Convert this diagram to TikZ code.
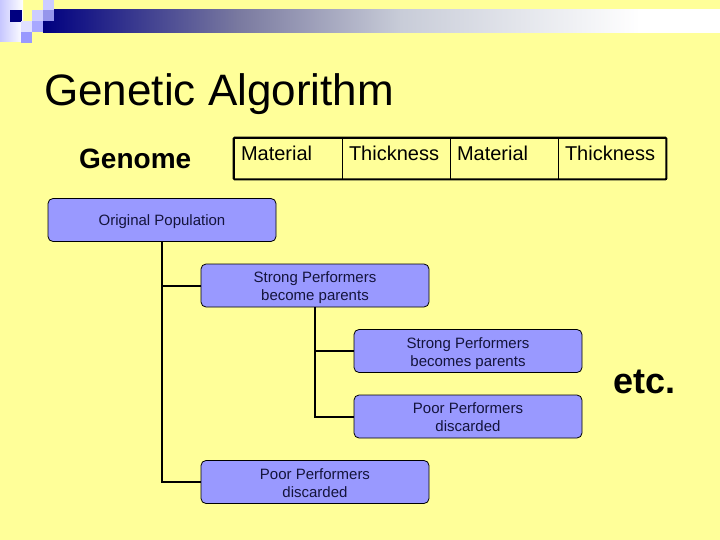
\documentclass[tikz,border=0pt]{standalone}
\usepackage{fontspec}
\setmainfont{Liberation Sans}
\definecolor{slidebg}{HTML}{FFFF99}
\definecolor{boxfill}{HTML}{9999FF}
\definecolor{navyband}{HTML}{000080}
\definecolor{bandmid}{HTML}{7A7AA0}
\definecolor{bandpale}{HTML}{C8CCD8}
\definecolor{boxtext}{HTML}{14143C}
\pgfdeclarehorizontalshading{bandshade}{100bp}{color(0bp)=(navyband); color(25bp)=(navyband); color(39.5bp)=(bandmid); color(51.4bp)=(bandpale); color(69.1bp)=(white); color(100bp)=(white)}
\tikzset{
  popbox/.style={draw=black, line width=0.8pt, fill=boxfill, rounded corners=5pt, minimum width=228pt, minimum height=43pt,
    inner sep=0pt, align=center, text=boxtext, font=\fontsize{15}{18}\selectfont, text height=31pt, text depth=1pt},
  cellbox/.style={draw=black, line width=0.8pt, minimum width=108pt, minimum height=41pt, text width=94pt, align=left,
    inner xsep=7pt, inner ysep=3pt, text height=20pt, text depth=15pt, font=\fontsize{20}{22}\selectfont},
  link/.style={line width=2pt}
}
\begin{document}
\begin{tikzpicture}[x=1pt,y=-1pt]
    % Fond
    \fill[slidebg] (0,0) rectangle (720,540);
    \useasboundingbox (0,0) rectangle (720,540);
    % Bandeau
    \shade[shading=bandshade] (43,10) rectangle (720,33);
    \shade[left color=boxfill!55!white, right color=white] (0,0) rectangle (23,42);
    \fill[navyband] (10,10) rectangle (22,22);
    \fill[boxfill!50!white] (32,10) rectangle (43,21);
    \fill[boxfill!50!white] (43,0) rectangle (54,10);
    \fill[boxfill!85!gray] (43,10) rectangle (54,21);
    \fill[boxfill!30!white] (21,21) rectangle (32,32);
    \fill[boxfill!85!white] (32,21) rectangle (43,32);
    \fill[boxfill] (21,32) rectangle (32,43);
    % Titre
    \node[anchor=base west, inner sep=0pt, font=\fontsize{44}{48}\selectfont] (title) at (44,106) {Genetic Algorithm};
    \node[anchor=base west, inner sep=0pt, font=\fontsize{28}{30}\selectfont\bfseries] (genome) at (79,169) {Genome};
    \node[anchor=base west, inner sep=0pt, font=\fontsize{36}{40}\selectfont\bfseries] (etc) at (613,393) {etc.};
    % Chromosome
    \node[cellbox] (matA) at (288,158.5) {Material};
    \node[cellbox] (thickA) at (396,158.5) {Thickness};
    \node[cellbox] (matB) at (504,158.5) {Material};
    \node[cellbox] (thickB) at (612,158.5) {Thickness};
    \draw[line width=2pt, rounded corners=1pt] (matA.north west) rectangle (thickB.south east);
    % Boites
    \node[popbox, text height=13pt, text depth=2.3pt] (pop) at (162,220) {Original Population};
    \node[popbox] (strong) at (315,285.5) {Strong Performers\\become parents};
    \node[popbox] (strongB) at (468,351) {Strong Performers\\becomes parents};
    \node[popbox] (poorB) at (468,416.5) {Poor Performers\\discarded};
    \node[popbox] (poor) at (315,482) {Poor Performers\\discarded};
    % Liens
    \draw[link] (pop.south) |- (strong.west);
    \draw[link] (pop.south) |- (poor.west);
    \draw[link] (strong.south) |- (strongB.west);
    \draw[link] (strong.south) |- (poorB.west);
\end{tikzpicture}
\end{document}
